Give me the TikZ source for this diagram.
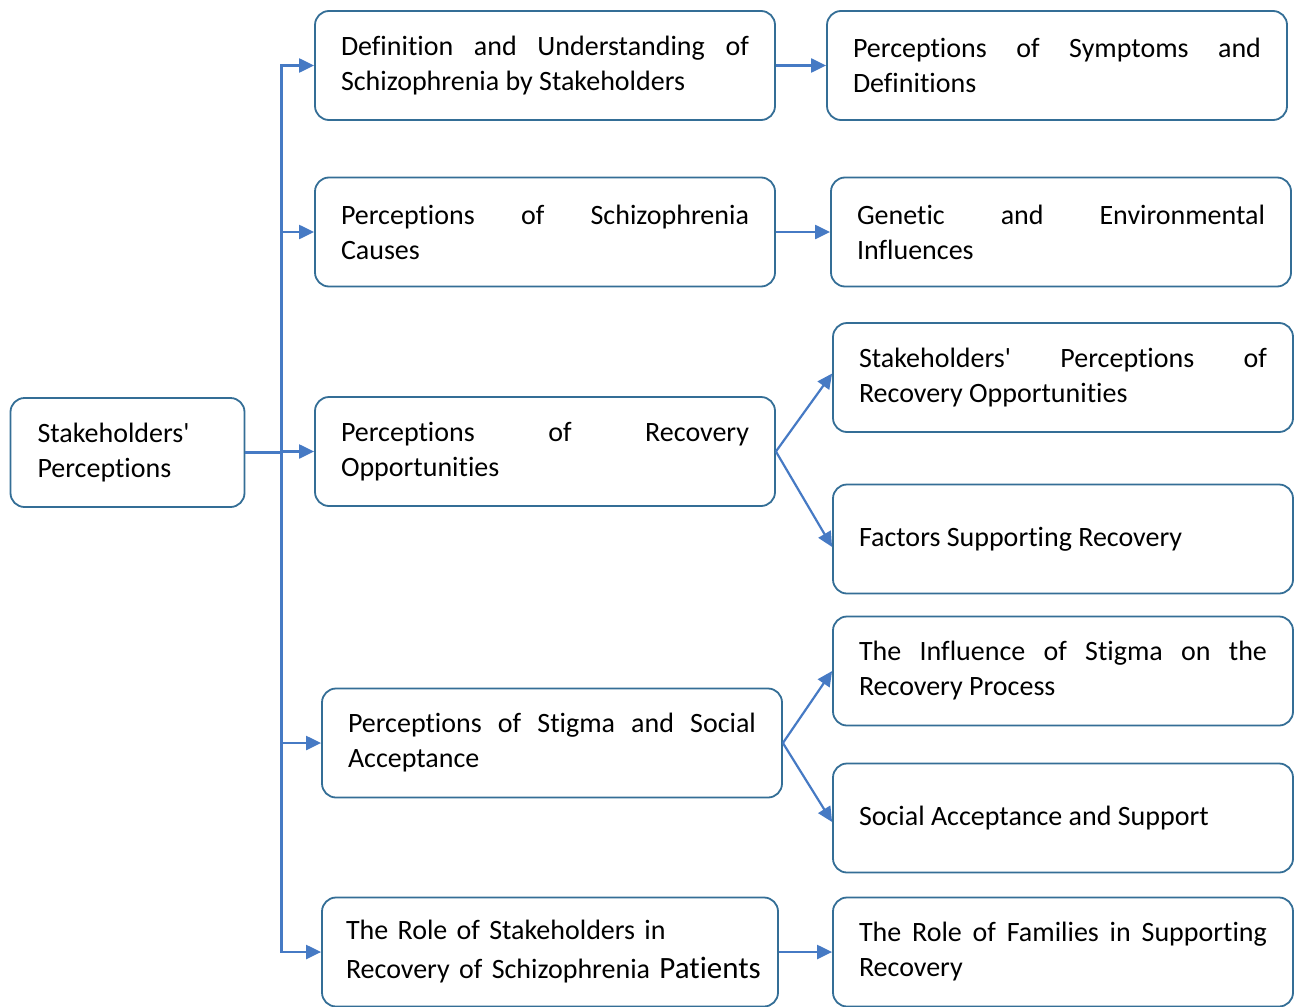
\documentclass[tikz,border=0pt]{standalone}
\usepackage{fontspec}
\setmainfont{Carlito}[Ligatures={NoCommon}]
\usepackage{tikz}
\usetikzlibrary{arrows.meta}
\definecolor{boxline}{RGB}{52,110,150}
\definecolor{arrowblue}{RGB}{70,122,196}

\begin{document}
\begin{tikzpicture}[x=0.5pt,y=-0.5pt,>={Triangle[length=7.5pt,width=7pt]},
  box/.style={draw=boxline,line width=0.9pt,rounded corners=7pt,fill=white,
    text width=204pt,inner xsep=13pt,minimum height=54.5pt,align=justify,
    font=\fontsize{14}{17.5}\selectfont},
  link/.style={->,draw=arrowblue,line width=1.1pt}]
  \useasboundingbox (0,0) rectangle (1294,1006);
  \node[box,text width=90pt,inner xsep=13.5pt,align=left] (root) at (127.5,452.5)
    {Stakeholders\textquotesingle\\Perceptions};
  \node[box] (a1) at (545,65.5) {Definition and Understanding of\linebreak Schizophrenia by Stakeholders};
  \node[box] (a2) at (545,232) {Perceptions of Schizophrenia\linebreak Causes};
  \node[box] (a3) at (545,451.5) {Perceptions of Recovery\linebreak Opportunities};
  \node[box] (a4) at (552,743) {Perceptions of Stigma and Social\linebreak Acceptance};
  \node[box,align=left,inner xsep=12pt,font=\fontsize{14}{19.5}\selectfont] (a5) at (550,952)
    {The Role of Stakeholders in\\\mbox{Recovery of Schizophrenia {\fontsize{15.5}{19.5}\selectfont Patients}}};
  \node[box] (b1) at (1057,65.5) {Perceptions of Symptoms and\linebreak Definitions};
  \node[box] (b2) at (1061,232) {Genetic and Environmental\linebreak Influences};
  \node[box] (b3) at (1063,377.5) {Stakeholders\textquotesingle{} Perceptions of\linebreak Recovery Opportunities};
  \node[box] (b4) at (1063,539) {Factors Supporting Recovery};
  \node[box] (b5) at (1063,671) {The Influence of Stigma on the\linebreak Recovery Process};
  \node[box] (b6) at (1063,818) {Social Acceptance and Support};
  \node[box] (b7) at (1063,952) {The Role of Families in Supporting\linebreak Recovery};
  \draw[arrowblue,line width=1.1pt] (root.east) -- ++(36,0) coordinate (hub);
  \foreach \n in {a1,a2,a3,a4,a5}
    \draw[link] (hub) |- (\n.west);
  \draw[link] (a1.east) -- (b1.west);
  \draw[link] (a2.east) -- (b2.west);
  \draw[link] (a3.east) -- ([yshift=2pt]b3.west);
  \draw[link] (a3.east) -- ([yshift=-4pt]b4.west);
  \draw[link] (a4.east) -- (b5.west);
  \draw[link] (a4.east) -- ([yshift=-2pt]b6.west);
  \draw[link] (a5.east) -- (b7.west);
\end{tikzpicture}
\end{document}
